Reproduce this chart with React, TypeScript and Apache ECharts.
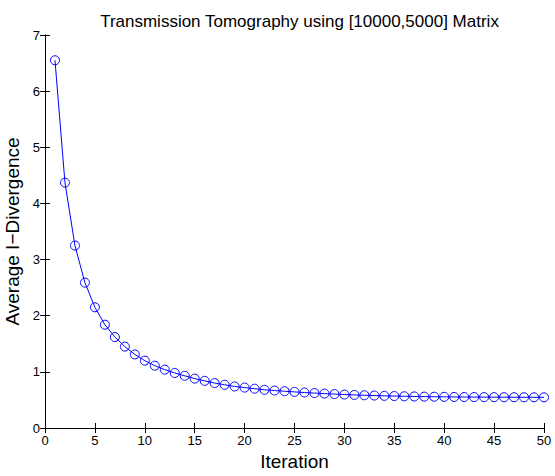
import React, { useEffect, useRef } from "react";
import * as echarts from "echarts";

const titleText = "Transmission Tomography using [10000,5000] Matrix";
const xName = "Iteration";
const yName = "Average I\u2212Divergence";

const iterations = [
  1, 2, 3, 4, 5, 6, 7, 8, 9, 10, 11, 12, 13, 14, 15, 16, 17, 18, 19, 20, 21, 22, 23, 24, 25,
  26, 27, 28, 29, 30, 31, 32, 33, 34, 35, 36, 37, 38, 39, 40, 41, 42, 43, 44, 45, 46, 47, 48, 49, 50,
];
const divergence = [
  6.55, 4.37, 3.25, 2.59, 2.15, 1.84, 1.62, 1.45, 1.31, 1.2, 1.11, 1.04, 0.98, 0.93, 0.88, 0.84,
  0.8, 0.77, 0.74, 0.72, 0.7, 0.68, 0.667, 0.655, 0.643, 0.632, 0.622, 0.613, 0.604, 0.596, 0.589,
  0.583, 0.578, 0.573, 0.569, 0.565, 0.562, 0.559, 0.557, 0.555, 0.553, 0.552, 0.551, 0.55, 0.549,
  0.548, 0.548, 0.547, 0.547, 0.546,
];

const FONT = "'Liberation Sans', Arial, Helvetica, sans-serif";

export default function App() {
  const ref = useRef<HTMLDivElement>(null);
  useEffect(() => {
    if (!ref.current) return;
    const chart = echarts.init(ref.current, null, { renderer: "svg" });
    const axisLine = { show: true, lineStyle: { color: "#000", width: 1 } };
    const tick = { show: true, inside: true, length: 5, lineStyle: { color: "#000", width: 1 } };
    chart.setOption({
      animation: false,
      backgroundColor: "#fff",
      title: {
        text: titleText,
        left: 294.5,
        textAlign: "center",
        top: 8,
        textStyle: { fontFamily: FONT, fontSize: 17, fontWeight: "normal", color: "#000" },
      },
      grid: { left: 45, right: 11, top: 35, bottom: 48, containLabel: false, outerBoundsMode: "none" },
      xAxis: [
        {
          type: "value",
          min: 0,
          max: 50,
          interval: 5,
          position: "bottom",
          name: xName,
          nameLocation: "middle",
          nameGap: 21,
          nameTextStyle: { fontFamily: FONT, fontSize: 19, color: "#000" },
          axisLine,
          axisTick: tick,
          axisLabel: { fontFamily: FONT, fontSize: 13, color: "#000", margin: 6 },
          splitLine: { show: false },
        },
        {
          type: "value",
          min: 0,
          max: 50,
          interval: 5,
          position: "top",
          axisLine,
          axisTick: tick,
          axisLabel: { show: false },
          splitLine: { show: false },
        },
      ],
      yAxis: [
        {
          type: "value",
          min: 0,
          max: 7,
          interval: 1,
          position: "left",
          name: yName,
          nameLocation: "middle",
          nameGap: 18,
          nameTextStyle: { fontFamily: FONT, fontSize: 19, color: "#000" },
          axisLine,
          axisTick: tick,
          axisLabel: { fontFamily: FONT, fontSize: 13, color: "#000", margin: 5 },
          splitLine: { show: false },
        },
        {
          type: "value",
          min: 0,
          max: 7,
          interval: 1,
          position: "right",
          axisLine,
          axisTick: tick,
          axisLabel: { show: false },
          splitLine: { show: false },
        },
      ],
      series: [
        {
          type: "line",
          xAxisIndex: 0,
          yAxisIndex: 0,
          data: iterations.map((x, i) => [x, divergence[i]]),
          symbol: "circle",
          symbolSize: 9,
          showSymbol: true,
          lineStyle: { color: "#0000ff", width: 1 },
          itemStyle: { color: "rgba(0,0,0,0)", borderColor: "#0000ff", borderWidth: 1, opacity: 1 },
        },
      ],
    });
    return () => chart.dispose();
  }, []);
  return (
    <div
      ref={ref}
      style={{ position: "fixed", left: 0, top: 0, width: 555, height: 476, background: "#fff" }}
    />
  );
}
